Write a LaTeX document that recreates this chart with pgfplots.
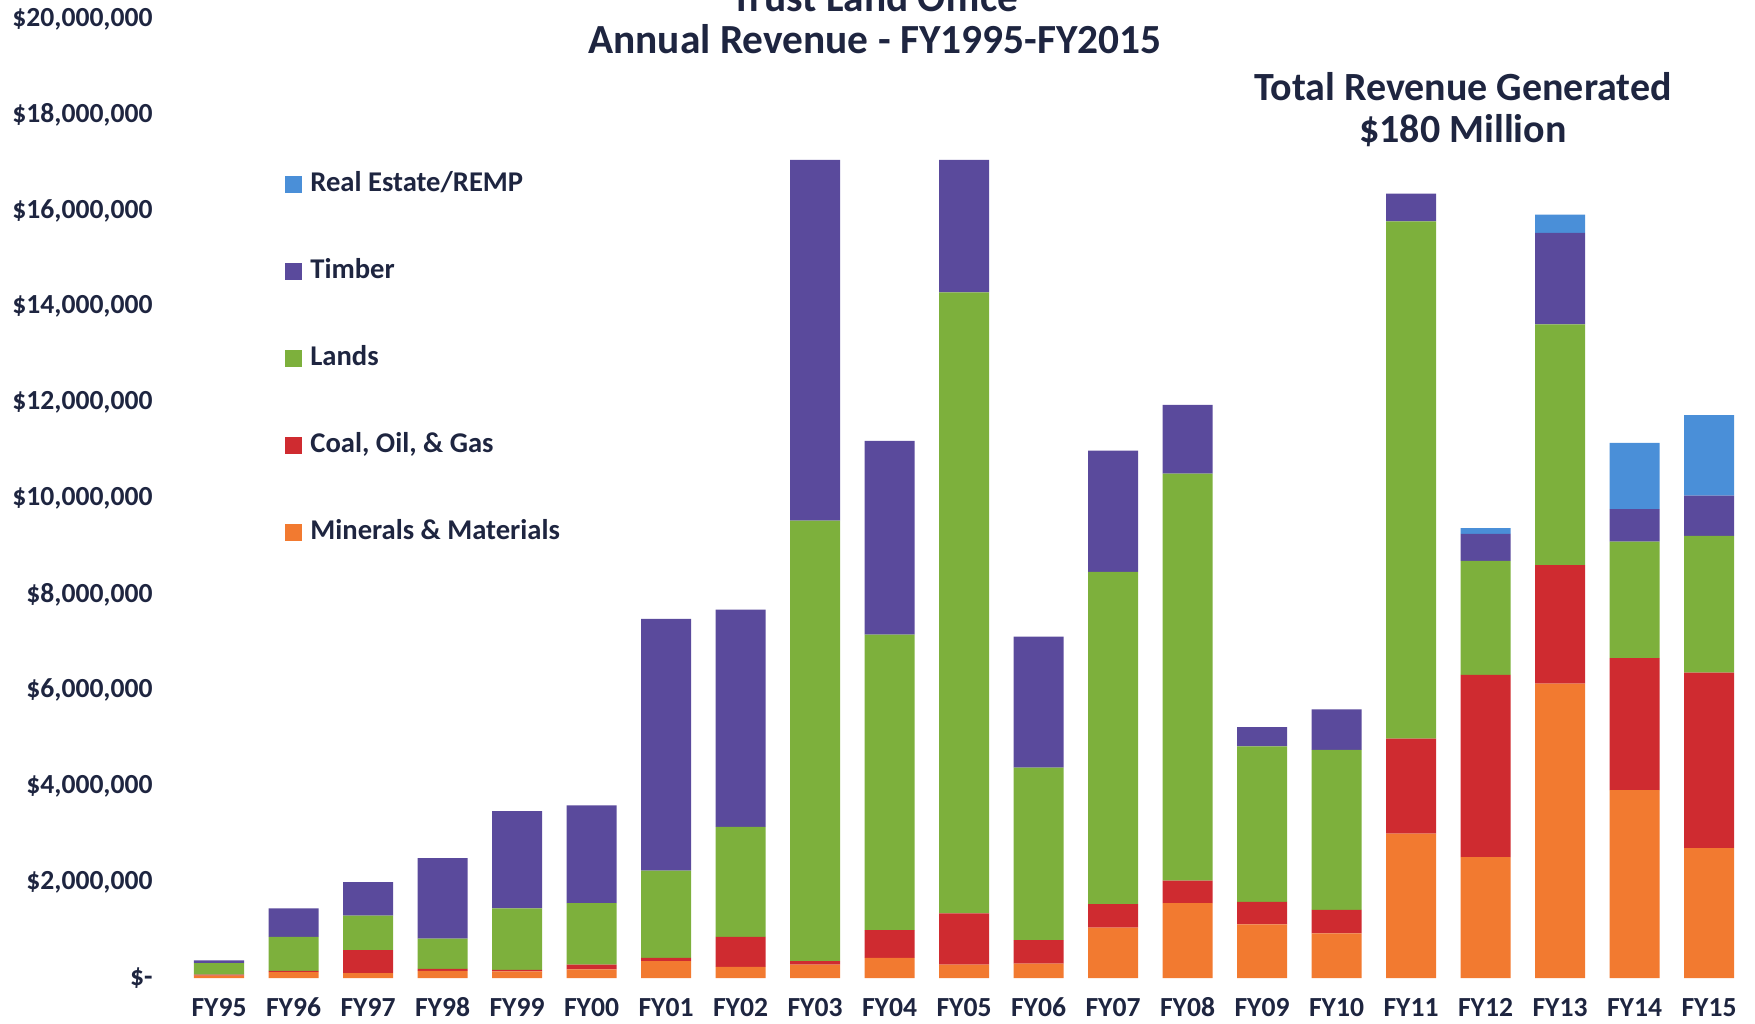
\documentclass[border=0pt]{standalone}
\usepackage{fontspec}
\setmainfont{Carlito}
\usepackage{pgfplots}
\usepackage{pgfplotstable}
\pgfplotsset{compat=1.18}
\definecolor{cRE}{HTML}{4A8FD8}
\definecolor{cTim}{HTML}{5A4A9C}
\definecolor{cLand}{HTML}{7DB03C}
\definecolor{cCoal}{HTML}{CF2B30}
\definecolor{cMin}{HTML}{F27A30}
\definecolor{tc}{HTML}{1E2540}
\pgfplotstableread{
x M C L T R
0 0.05 0.02 0.24 0.06 0
1 0.12 0.03 0.71 0.59 0
2 0.10 0.48 0.72 0.70 0
3 0.15 0.04 0.63 1.68 0
4 0.14 0.03 1.28 2.03 0
5 0.18 0.10 1.28 2.04 0
6 0.35 0.07 1.82 5.25 0
7 0.23 0.63 2.29 4.53 0
8 0.28 0.07 9.19 7.52 0
9 0.42 0.58 6.16 4.04 0
10 0.28 1.07 12.95 2.76 0
11 0.30 0.49 3.60 2.73 0
12 1.05 0.49 6.93 2.53 0
13 1.56 0.47 8.49 1.43 0
14 1.12 0.47 3.24 0.40 0
15 0.93 0.49 3.34 0.84 0
16 3.01 1.98 10.79 0.58 0
17 2.52 3.80 2.38 0.56 0.12
18 6.14 2.47 5.02 1.91 0.38
19 3.92 2.75 2.43 0.68 1.38
20 2.71 3.66 2.85 0.84 1.68
}\data
\begin{document}
\begin{tikzpicture}
\begin{axis}[
  at={(0pt,0pt)}, anchor=south west,
  scale only axis, width=782.25pt, height=479.5pt,
  xmin=-0.5, xmax=20.5, ymin=0, ymax=20,
  ybar stacked, bar width=25pt,
  axis line style={draw=none}, major tick length=0pt,
  xtick={0,...,20},
  xticklabels={FY95,FY96,FY97,FY98,FY99,FY00,FY01,FY02,FY03,FY04,FY05,FY06,FY07,FY08,FY09,FY10,FY11,FY12,FY13,FY14,FY15},
  ytick={0,2,...,20},
  yticklabels={{\$-\hspace{7pt}},{\$2,000,000},{\$4,000,000},{\$6,000,000},{\$8,000,000},{\$10,000,000},{\$12,000,000},{\$14,000,000},{\$16,000,000},{\$18,000,000},{\$20,000,000}},
  xticklabel style={font=\fontsize{13.8}{16}\selectfont\bfseries, text=tc, anchor=base, inner sep=0pt, yshift=-19pt},
  yticklabel style={font=\fontsize{13.8}{16}\selectfont\bfseries, text=tc, anchor=east, inner sep=0pt, xshift=-14.4pt},
  legend image code/.code={\fill[#1] (0pt,-4.25pt) rectangle (8.5pt,4.25pt);},
  reverse legend,
  legend cell align=left,
  legend style={at={(0.066,0.8457)}, anchor=north west, draw=none, fill=none, inner sep=0pt,
    row sep=26.5pt, column sep=2pt, font=\fontsize{14.3}{16}\selectfont\bfseries, text=tc,
    nodes={text height=10pt, text depth=3pt, inner sep=2pt}},
]
\addplot[fill=cMin, draw=none] table[x=x,y=M]{\data};
\addlegendentry{Minerals \& Materials}
\addplot[fill=cCoal, draw=none] table[x=x,y=C]{\data};
\addlegendentry{Coal, Oil, \& Gas}
\addplot[fill=cLand, draw=none] table[x=x,y=L]{\data};
\addlegendentry{Lands}
\addplot[fill=cTim, draw=none] table[x=x,y=T]{\data};
\addlegendentry{Timber}
\addplot[fill=cRE, draw=none] table[x=x,y=R]{\data};
\addlegendentry{Real Estate/REMP}
\end{axis}
\node[anchor=base, font=\fontsize{20.7}{24}\selectfont\bfseries, text=tc, inner sep=0pt] at (346.6pt,483pt) {Trust Land Office};
\node[anchor=base, font=\fontsize{20.7}{24}\selectfont\bfseries, text=tc, inner sep=0pt] at (346.6pt,462pt) {Annual Revenue - FY1995-FY2015};
\node[anchor=base, font=\fontsize{20}{24}\selectfont\bfseries, text=tc, inner sep=0pt] at (640.6pt,438.5pt) {Total Revenue Generated};
\node[anchor=base, font=\fontsize{20}{24}\selectfont\bfseries, text=tc, inner sep=0pt] at (640.6pt,417.5pt) {\$180 Million};
\pgfresetboundingbox
\useasboundingbox (-90.875pt,-22.5pt) rectangle (786.625pt,489pt);
\end{tikzpicture}
\end{document}
